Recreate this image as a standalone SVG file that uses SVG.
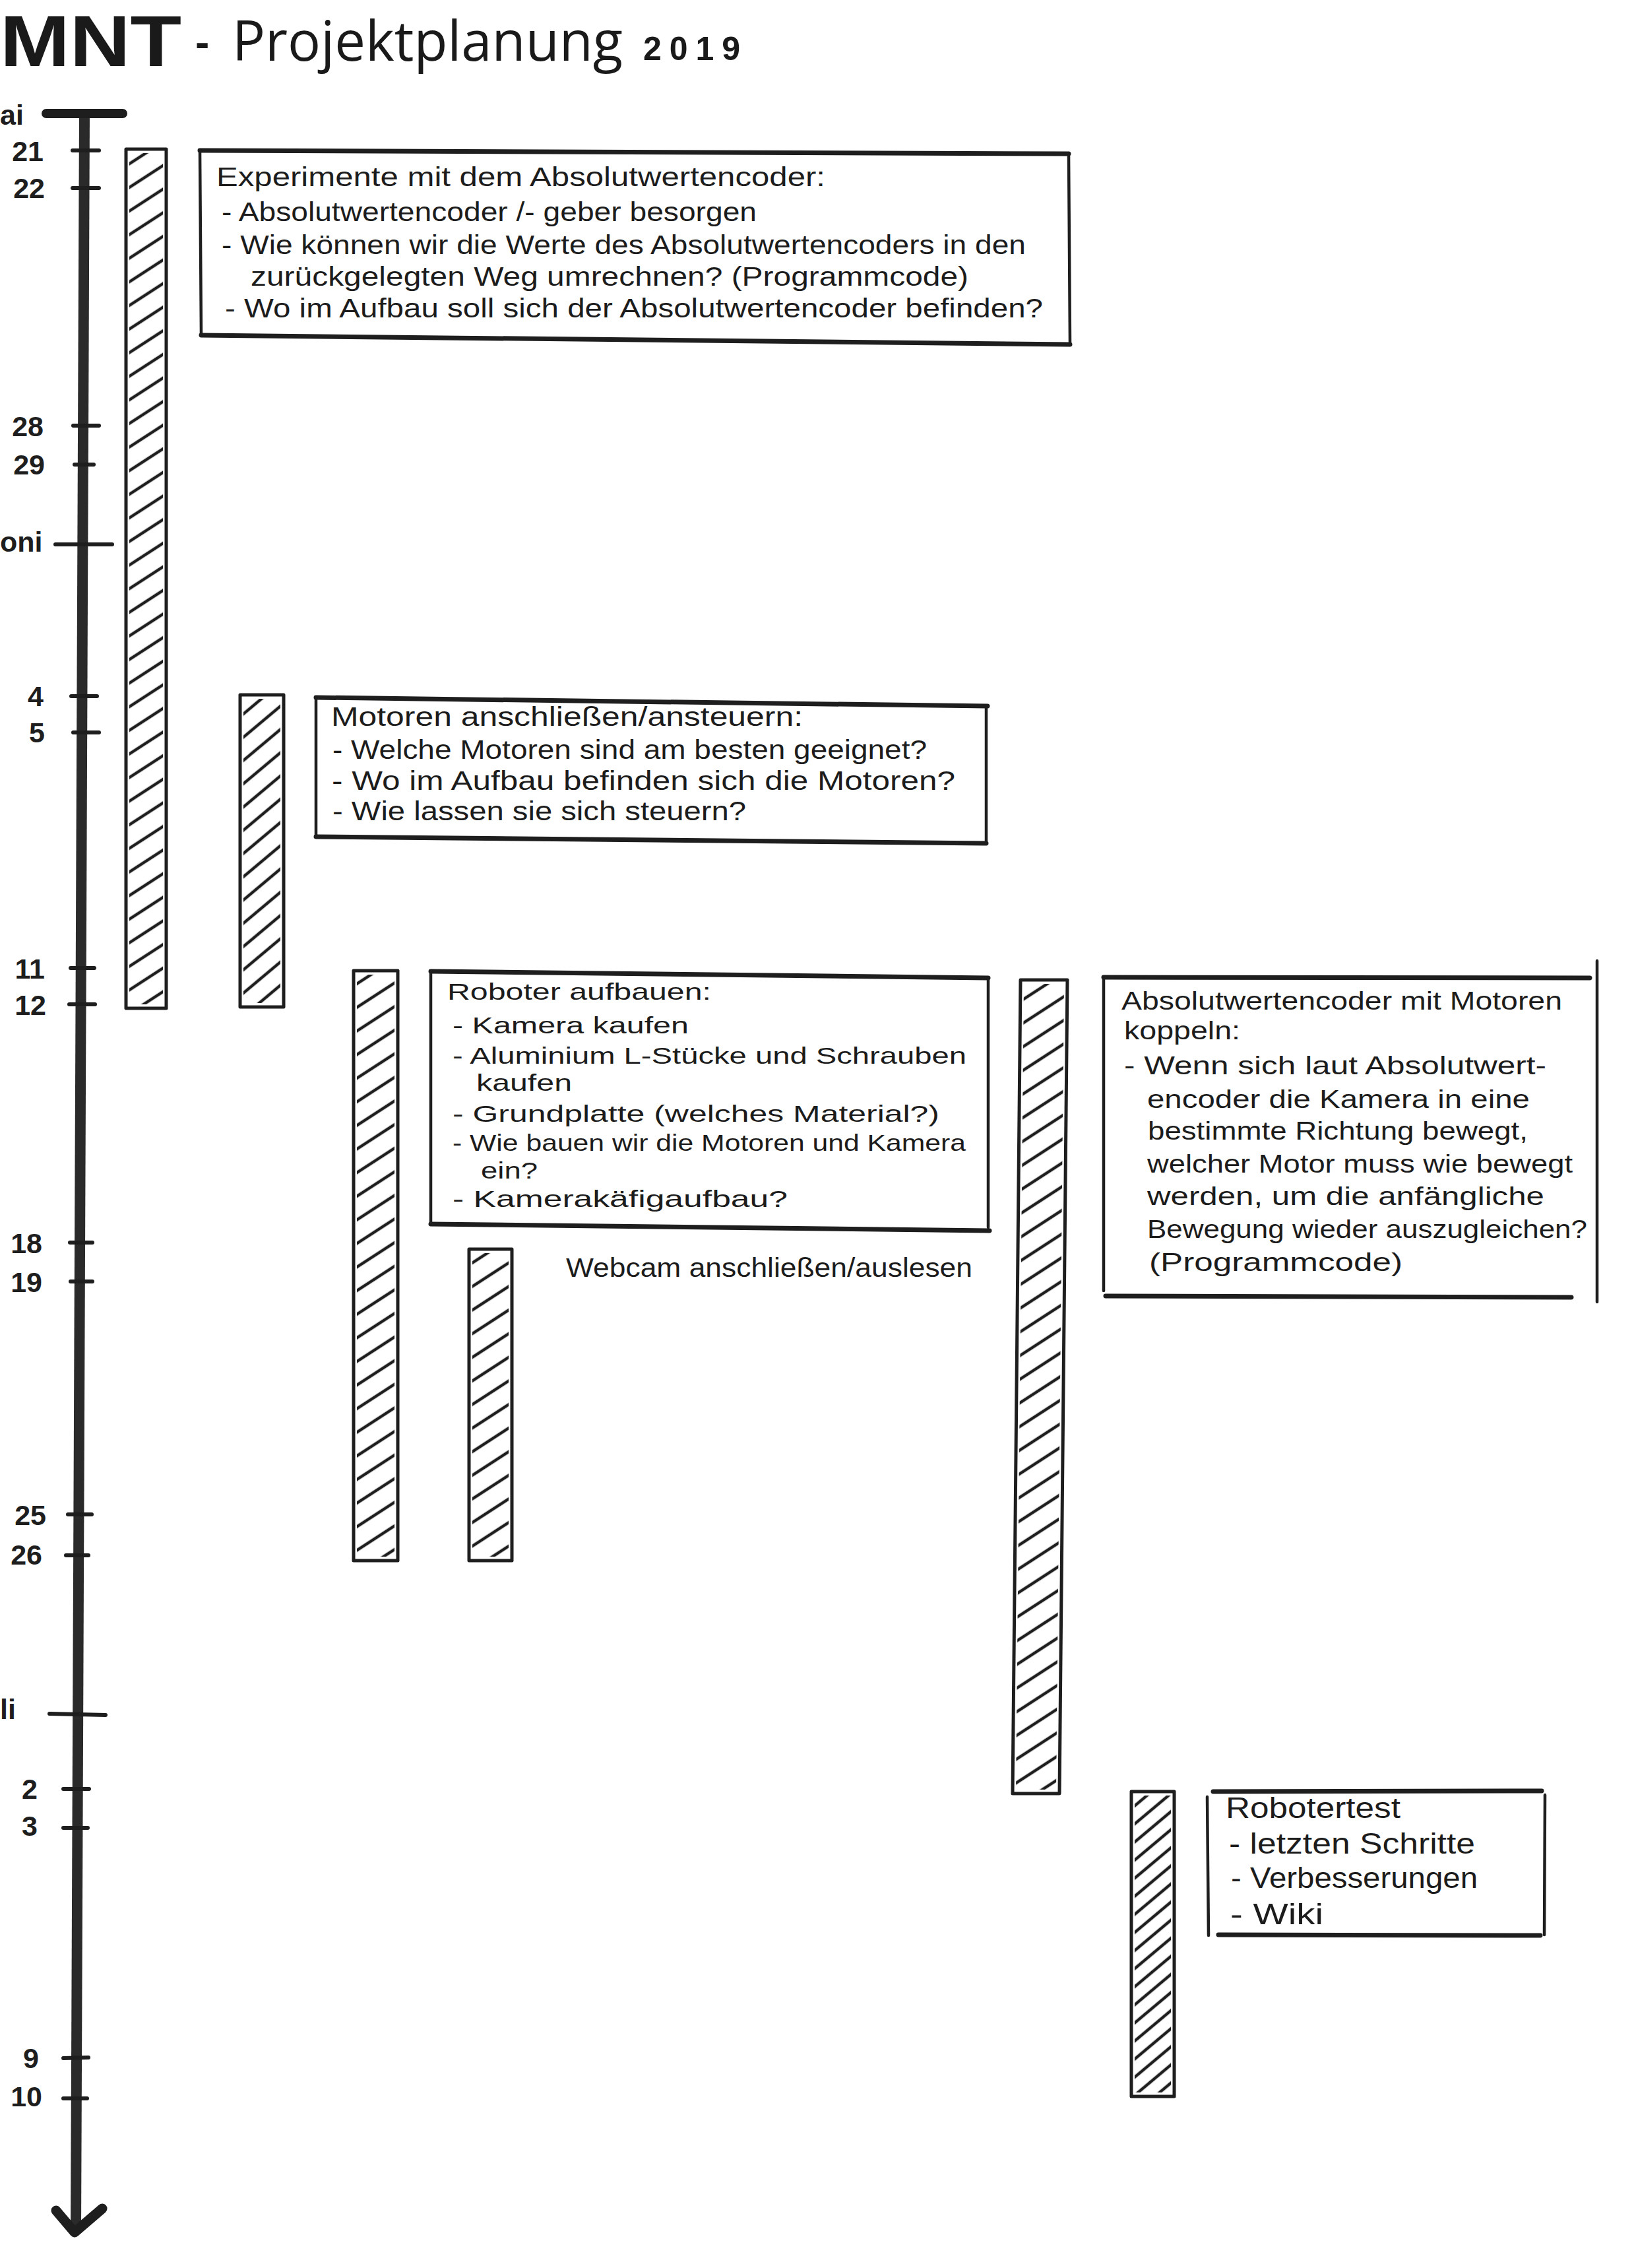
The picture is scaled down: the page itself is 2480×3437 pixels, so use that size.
<svg xmlns="http://www.w3.org/2000/svg" width="2480" height="3437" viewBox="0 0 2480 3437">
<style>
.ink{stroke:#1e1e1e;fill:none;stroke-linecap:round;stroke-linejoin:round}
.hz{stroke-width:7}
.vt{stroke-width:4.5}
.bar{stroke:#1e1e1e;fill:none;stroke-width:5;stroke-linejoin:round}
.lbl{font-family:"Liberation Sans",Arial,sans-serif;font-weight:bold;font-size:43px;fill:#1e1e1e;text-anchor:end}
.mon{font-family:"Liberation Sans",Arial,sans-serif;font-weight:bold;font-size:43px;fill:#1e1e1e}
.hw{font-family:"Liberation Sans",Arial,sans-serif;fill:#1c1c1c}
.f41{font-size:41px}
.f40{font-size:40px}
.f39{font-size:39px}
.f35{font-size:35px}
.f44{font-size:44px}
.tick{stroke:#1e1e1e;stroke-width:6;stroke-linecap:round}
</style>
<defs>
<pattern id="hA" patternUnits="userSpaceOnUse" width="40" height="30" patternTransform="rotate(-33)">
<line x1="-5" y1="15" x2="45" y2="15" stroke="#1e1e1e" stroke-width="4.5"/>
</pattern>
<pattern id="hB" patternUnits="userSpaceOnUse" width="40" height="27" patternTransform="rotate(-40)">
<line x1="-5" y1="13" x2="45" y2="13" stroke="#1e1e1e" stroke-width="4.5"/>
</pattern>
<pattern id="hC" patternUnits="userSpaceOnUse" width="40" height="21" patternTransform="rotate(-40)">
<line x1="-5" y1="10" x2="45" y2="10" stroke="#1e1e1e" stroke-width="4.5"/>
</pattern>
</defs>
<rect x="0" y="0" width="2480" height="3437" fill="#ffffff"/>

<g id="title">
<text x="0" y="100" font-family="Liberation Sans,Arial,sans-serif" font-weight="bold" font-size="110" fill="#1a1a1a" textLength="275" lengthAdjust="spacingAndGlyphs">MNT</text>
<text x="296" y="86" font-family="Liberation Sans,Arial,sans-serif" font-weight="bold" font-size="64" fill="#1a1a1a">-</text>
<text x="352" y="92" font-family="Open Sans,Liberation Sans,sans-serif" font-size="84" fill="#1a1a1a" textLength="592" lengthAdjust="spacingAndGlyphs">Projektplanung</text>
<text x="975" y="91" font-family="Liberation Sans,Arial,sans-serif" font-weight="bold" font-size="50" fill="#1a1a1a" textLength="147" lengthAdjust="spacing">2019</text>
</g>

<g id="timeline">
<line x1="128" y1="172" x2="115" y2="3380" stroke="#2a2a2a" stroke-width="16"/>
<line x1="70" y1="172" x2="186" y2="172" stroke="#1e1e1e" stroke-width="14" stroke-linecap="round"/>
<polyline points="85,3350 113,3383 155,3347" stroke="#1e1e1e" stroke-width="15" fill="none" stroke-linecap="round" stroke-linejoin="round"/>
<line class="tick" x1="110" y1="228" x2="150" y2="228"/>
<line class="tick" x1="110" y1="285" x2="150" y2="285"/>
<line class="tick" x1="111" y1="645" x2="150" y2="645"/>
<line class="tick" x1="113" y1="704" x2="142" y2="704"/>
<line class="tick" x1="84" y1="825" x2="170" y2="825" stroke-width="8"/>
<line class="tick" x1="108" y1="1055" x2="147" y2="1055"/>
<line class="tick" x1="111" y1="1110" x2="150" y2="1110"/>
<line class="tick" x1="107" y1="1467" x2="143" y2="1467"/>
<line class="tick" x1="105" y1="1522" x2="144" y2="1522"/>
<line class="tick" x1="106" y1="1883" x2="140" y2="1883"/>
<line class="tick" x1="107" y1="1942" x2="140" y2="1942"/>
<line class="tick" x1="103" y1="2295" x2="139" y2="2295"/>
<line class="tick" x1="100" y1="2357" x2="134" y2="2357"/>
<line class="tick" x1="75" y1="2597" x2="160" y2="2599" stroke-width="8"/>
<line class="tick" x1="96" y1="2711" x2="135" y2="2711"/>
<line class="tick" x1="96" y1="2770" x2="133" y2="2770"/>
<line class="tick" x1="96" y1="3119" x2="134" y2="3118"/>
<line class="tick" x1="96" y1="3180" x2="132" y2="3180"/>
<text class="mon" x="0" y="189">ai</text>
<text class="lbl" x="66" y="244">21</text>
<text class="lbl" x="68" y="300">22</text>
<text class="lbl" x="66" y="661">28</text>
<text class="lbl" x="68" y="719">29</text>
<text class="mon" x="0" y="836">oni</text>
<text class="lbl" x="66" y="1070">4</text>
<text class="lbl" x="68" y="1125">5</text>
<text class="lbl" x="68" y="1483">11</text>
<text class="lbl" x="70" y="1538">12</text>
<text class="lbl" x="64" y="1899">18</text>
<text class="lbl" x="64" y="1958">19</text>
<text class="lbl" x="70" y="2311">25</text>
<text class="lbl" x="64" y="2371">26</text>
<text class="mon" x="0" y="2605">li</text>
<text class="lbl" x="57" y="2726">2</text>
<text class="lbl" x="57" y="2782">3</text>
<text class="lbl" x="59" y="3134">9</text>
<text class="lbl" x="64" y="3192">10</text>
</g>

<g id="bar-encoder">
<rect x="196" y="232" width="51" height="1290" fill="url(#hA)"/>
<rect class="bar" x="191" y="226" width="61" height="1302"/>
</g>
<g id="bar-motoren">
<rect x="369" y="1059" width="56" height="461" fill="url(#hB)"/>
<rect class="bar" x="364" y="1053" width="66" height="473"/>
</g>
<g id="bar-roboter">
<rect x="541" y="1477" width="57" height="882" fill="url(#hA)"/>
<rect class="bar" x="536" y="1471" width="67" height="894"/>
</g>
<g id="bar-webcam">
<rect x="716" y="1899" width="55" height="460" fill="url(#hA)"/>
<rect class="bar" x="711" y="1893" width="65" height="472"/>
</g>
<g id="bar-koppeln">
<polygon points="1552,1491 1613,1491 1601,2712 1540,2712" fill="url(#hA)"/>
<polygon class="bar" points="1547,1485 1618,1485 1606,2718 1535,2718"/>
</g>
<g id="bar-test">
<rect x="1720" y="2721" width="55" height="450" fill="url(#hC)"/>
<rect class="bar" x="1715" y="2715" width="65" height="462"/>
</g>

<g id="box-encoder">
<line class="ink hz" x1="303" y1="228" x2="1620" y2="233"/>
<line class="ink vt" x1="303" y1="228" x2="305" y2="508"/>
<line class="ink vt" x1="1620" y1="233" x2="1622" y2="520"/>
<line class="ink hz" x1="305" y1="508" x2="1622" y2="522"/>
<text class="hw f41" x="328" y="282" textLength="923" lengthAdjust="spacingAndGlyphs">Experimente mit dem Absolutwertencoder:</text>
<text class="hw f41" x="336" y="335" textLength="811" lengthAdjust="spacingAndGlyphs">- Absolutwertencoder /- geber besorgen</text>
<text class="hw f41" x="336" y="385" textLength="1219" lengthAdjust="spacingAndGlyphs">- Wie können wir die Werte des Absolutwertencoders in den</text>
<text class="hw f41" x="380" y="433" textLength="1088" lengthAdjust="spacingAndGlyphs">zurückgelegten Weg umrechnen? (Programmcode)</text>
<text class="hw f41" x="341" y="481" textLength="1240" lengthAdjust="spacingAndGlyphs">- Wo im Aufbau soll sich der Absolutwertencoder befinden?</text>
</g>

<g id="box-motoren">
<line class="ink hz" x1="479" y1="1057" x2="1497" y2="1070"/>
<line class="ink vt" x1="479" y1="1057" x2="479" y2="1268"/>
<line class="ink vt" x1="1495" y1="1070" x2="1495" y2="1278"/>
<line class="ink hz" x1="479" y1="1268" x2="1495" y2="1278"/>
<text class="hw f40" x="502" y="1100" textLength="715" lengthAdjust="spacingAndGlyphs">Motoren anschließen/ansteuern:</text>
<text class="hw f40" x="504" y="1150" textLength="901" lengthAdjust="spacingAndGlyphs">- Welche Motoren sind am besten geeignet?</text>
<text class="hw f40" x="503" y="1197" textLength="945" lengthAdjust="spacingAndGlyphs">- Wo im Aufbau befinden sich die Motoren?</text>
<text class="hw f40" x="504" y="1243" textLength="627" lengthAdjust="spacingAndGlyphs">- Wie lassen sie sich steuern?</text>
</g>

<g id="box-roboter">
<line class="ink hz" x1="653" y1="1472" x2="1498" y2="1482"/>
<line class="ink vt" x1="653" y1="1472" x2="653" y2="1855"/>
<line class="ink vt" x1="1498" y1="1482" x2="1498" y2="1860"/>
<line class="ink hz" x1="653" y1="1855" x2="1500" y2="1865"/>
<text class="hw f35" x="678" y="1515" textLength="400" lengthAdjust="spacingAndGlyphs">Roboter aufbauen:</text>
<text class="hw f35" x="686" y="1566" textLength="358" lengthAdjust="spacingAndGlyphs">- Kamera kaufen</text>
<text class="hw f35" x="686" y="1612" textLength="779" lengthAdjust="spacingAndGlyphs">- Aluminium L-Stücke und Schrauben</text>
<text class="hw f35" x="722" y="1653" textLength="145" lengthAdjust="spacingAndGlyphs">kaufen</text>
<text class="hw f35" x="686" y="1700" textLength="738" lengthAdjust="spacingAndGlyphs">- Grundplatte (welches Material?)</text>
<text class="hw f35" x="686" y="1744" textLength="778" lengthAdjust="spacingAndGlyphs">- Wie bauen wir die Motoren und Kamera</text>
<text class="hw f35" x="729" y="1786" textLength="86" lengthAdjust="spacingAndGlyphs">ein?</text>
<text class="hw f35" x="686" y="1829" textLength="508" lengthAdjust="spacingAndGlyphs">- Kamerakäfigaufbau?</text>
</g>

<g id="label-webcam">
<text class="hw f40" x="858" y="1935" textLength="616" lengthAdjust="spacingAndGlyphs">Webcam anschließen/auslesen</text>
</g>

<g id="box-koppeln">
<line class="ink hz" x1="1673" y1="1481" x2="2410" y2="1482"/>
<line class="ink vt" x1="1673" y1="1481" x2="1673" y2="1956"/>
<line class="ink vt" x1="2421" y1="1456" x2="2421" y2="1973"/>
<line class="ink hz" x1="1676" y1="1964" x2="2382" y2="1966"/>
<text class="hw f39" x="1700" y="1530" textLength="668" lengthAdjust="spacingAndGlyphs">Absolutwertencoder mit Motoren</text>
<text class="hw f39" x="1704" y="1575" textLength="176" lengthAdjust="spacingAndGlyphs">koppeln:</text>
<text class="hw f39" x="1704" y="1628" textLength="640" lengthAdjust="spacingAndGlyphs">- Wenn sich laut Absolutwert-</text>
<text class="hw f39" x="1739" y="1679" textLength="580" lengthAdjust="spacingAndGlyphs">encoder die Kamera in eine</text>
<text class="hw f39" x="1740" y="1727" textLength="576" lengthAdjust="spacingAndGlyphs">bestimmte Richtung bewegt,</text>
<text class="hw f39" x="1739" y="1777" textLength="645" lengthAdjust="spacingAndGlyphs">welcher Motor muss wie bewegt</text>
<text class="hw f39" x="1739" y="1826" textLength="602" lengthAdjust="spacingAndGlyphs">werden, um die anfängliche</text>
<text class="hw f39" x="1739" y="1876" textLength="667" lengthAdjust="spacingAndGlyphs">Bewegung wieder auszugleichen?</text>
<text class="hw f39" x="1742" y="1926" textLength="384" lengthAdjust="spacingAndGlyphs">(Programmcode)</text>
</g>

<g id="box-test">
<line class="ink hz" x1="1839" y1="2715" x2="2337" y2="2714"/>
<line class="ink vt" x1="1830" y1="2723" x2="1832" y2="2933"/>
<line class="ink vt" x1="2342" y1="2720" x2="2341" y2="2932"/>
<line class="ink hz" x1="1847" y1="2932" x2="2335" y2="2933"/>
<text class="hw f44" x="1858" y="2755" textLength="265" lengthAdjust="spacingAndGlyphs">Robotertest</text>
<text class="hw f44" x="1863" y="2809" textLength="373" lengthAdjust="spacingAndGlyphs">- letzten Schritte</text>
<text class="hw f44" x="1866" y="2861" textLength="374" lengthAdjust="spacingAndGlyphs">- Verbesserungen</text>
<text class="hw f44" x="1865" y="2916" textLength="141" lengthAdjust="spacingAndGlyphs">- Wiki</text>
</g>

<g id="connectors"></g>
</svg>
